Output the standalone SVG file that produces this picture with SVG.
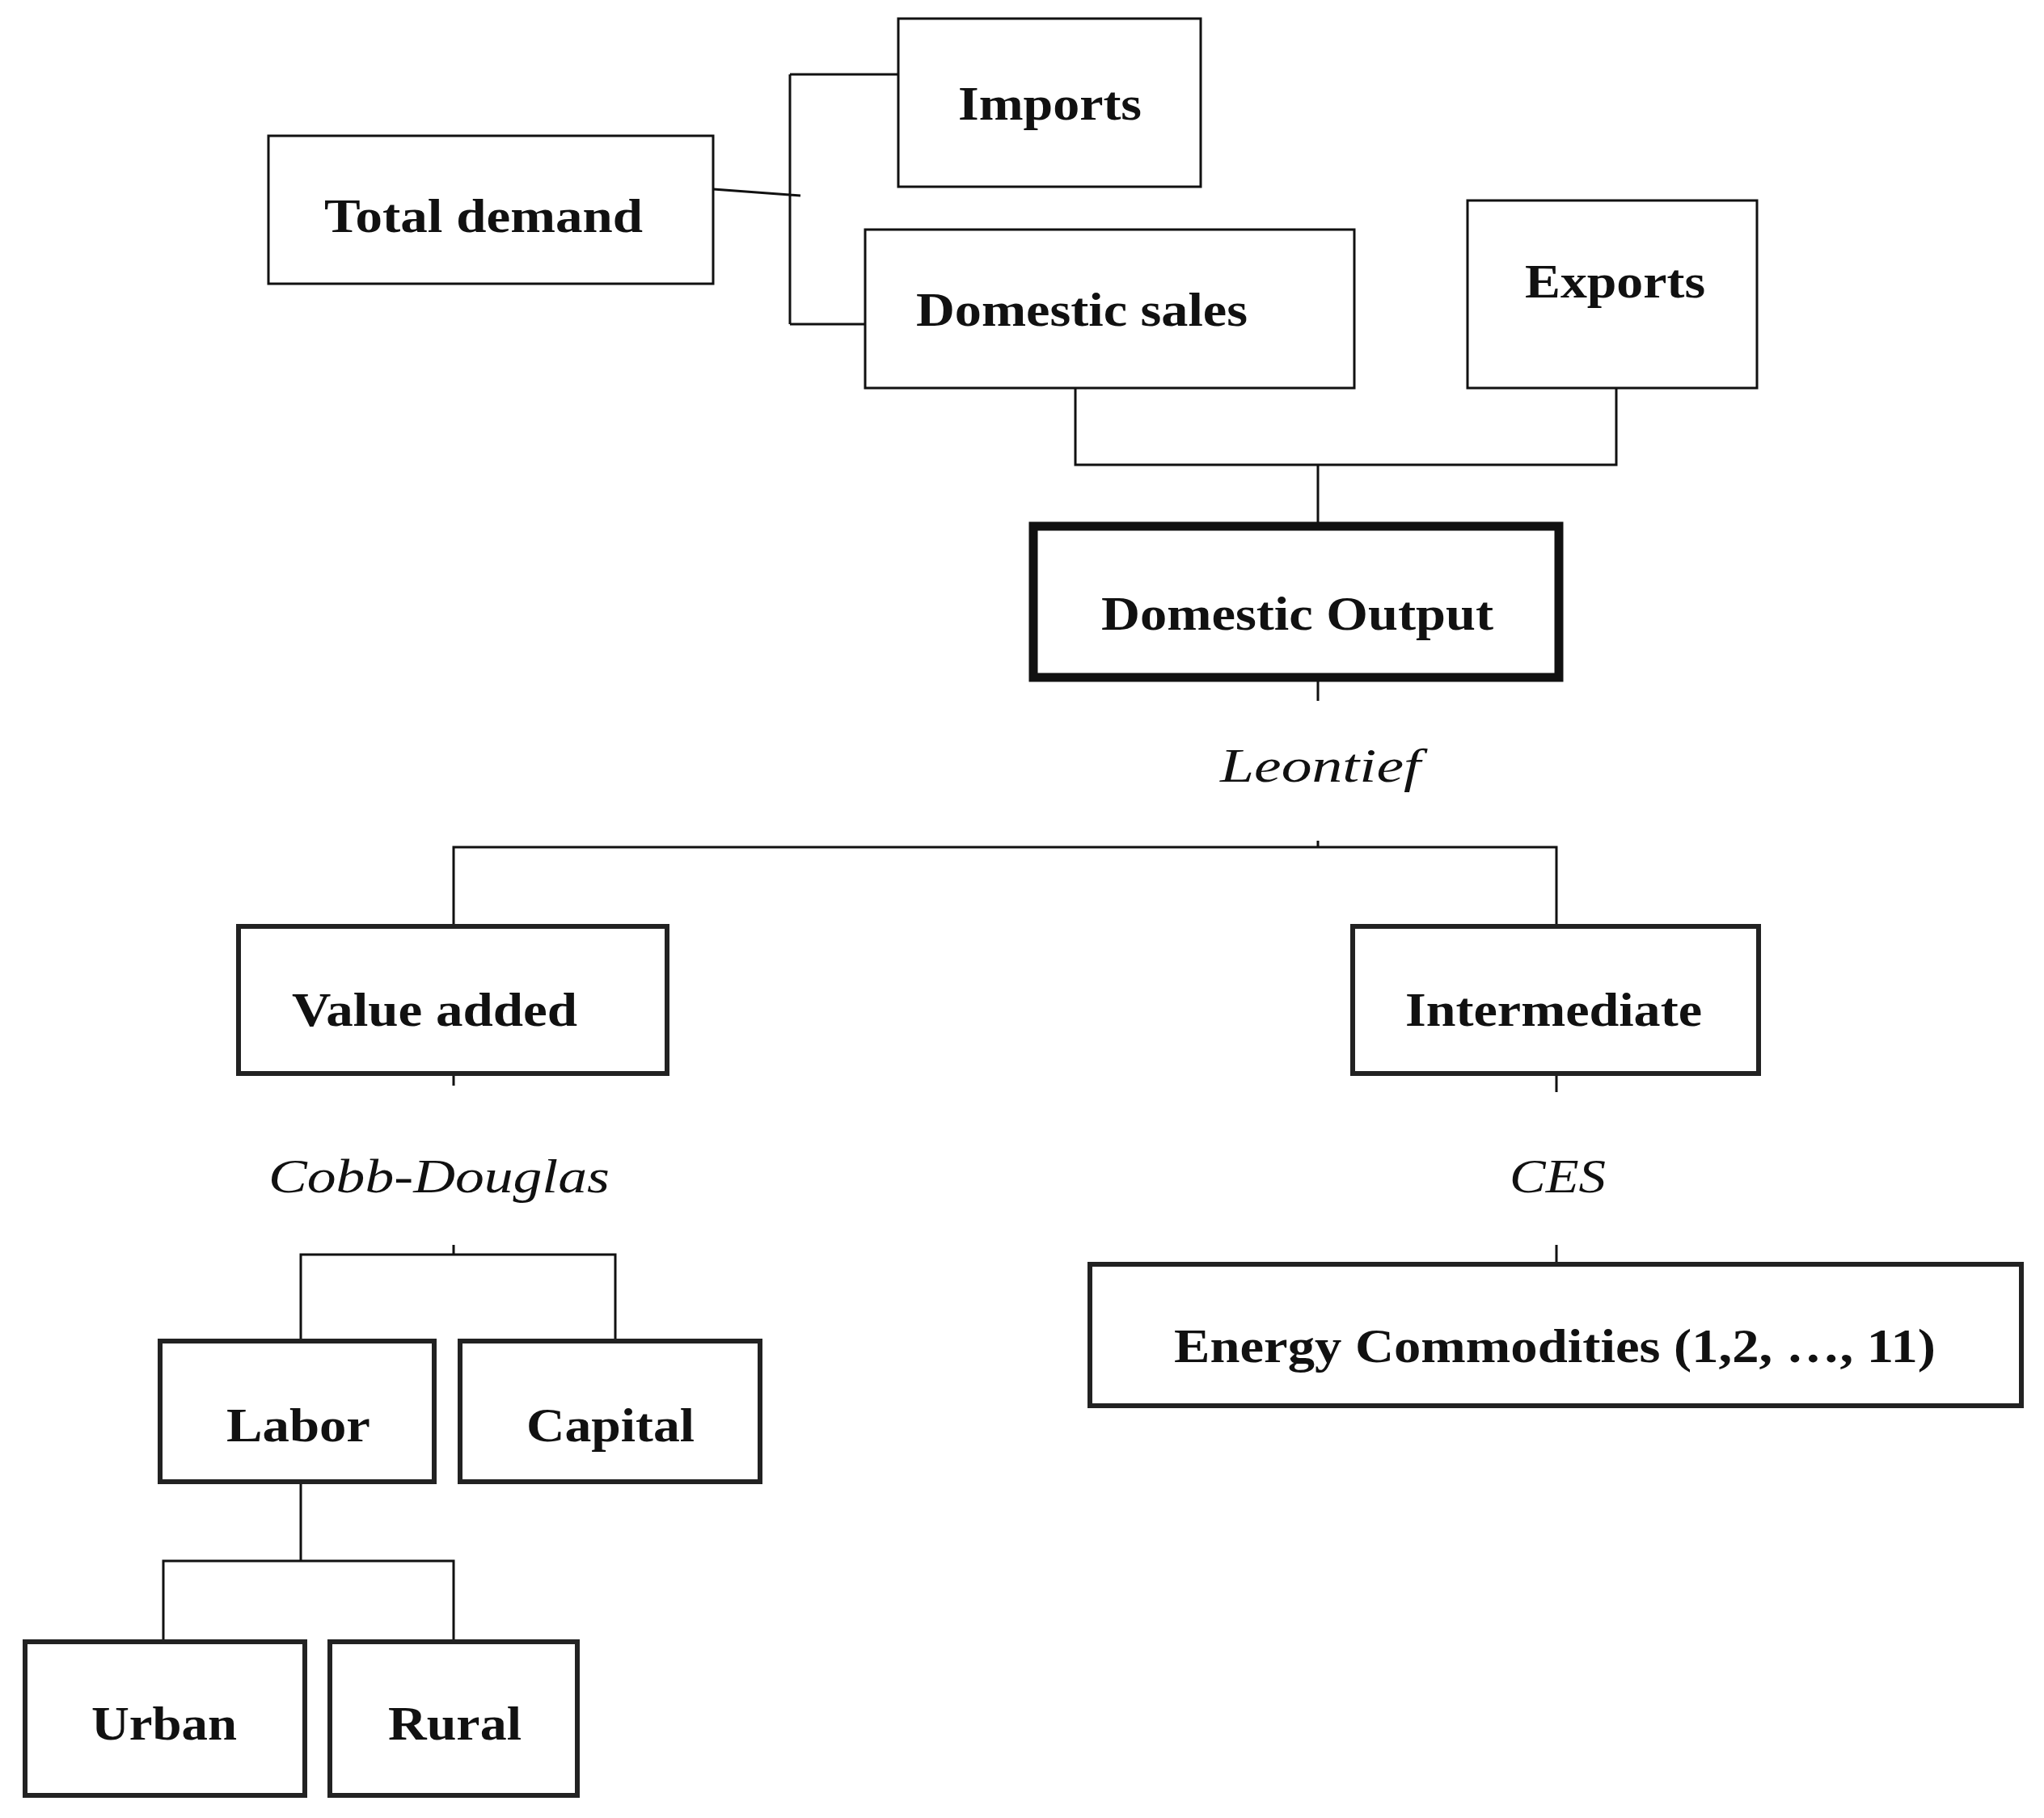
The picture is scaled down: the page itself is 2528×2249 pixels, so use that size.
<svg xmlns="http://www.w3.org/2000/svg" width="2528" height="2249" viewBox="0 0 2528 2249">
<style>
.b{fill:#fff;stroke:#111;stroke-width:3}
.m{fill:#fff;stroke:#222;stroke-width:6}
.k{fill:#fff;stroke:#111;stroke-width:11}
.t{font-family:"Liberation Serif",serif;font-weight:bold;font-size:60px;fill:#111}
.i{font-family:"Liberation Serif",serif;font-style:italic;font-size:60px;fill:#111}
.c{fill:none;stroke:#111;stroke-width:3}
</style>
<rect width="2528" height="2249" fill="#fff"/>
<g id="connectors" class="c">
<path d="M882 234L990 242M977 92V401M977 92H1111M977 401H1070"/>
<path d="M1330 480V575H1999V471M1630 575V651"/>
<path d="M1630 838V867M1630 1040V1048M561 1146V1048H1925V1146"/>
<path d="M561 1328V1343M561 1540V1552M372 1659V1552H761V1659"/>
<path d="M1925 1328V1351M1925 1540V1564"/>
<path d="M372 1833V1931M202 2080V1931H561V2080"/>
</g>
<g id="imports"><rect class="b" x="1111" y="23" width="374" height="208"/><text class="t" x="1185" y="148" textLength="227" lengthAdjust="spacingAndGlyphs">Imports</text></g>
<g id="total-demand"><rect class="b" x="332" y="168" width="550" height="183"/><text class="t" x="401" y="287" textLength="394" lengthAdjust="spacingAndGlyphs">Total demand</text></g>
<g id="domestic-sales"><rect class="b" x="1070" y="284" width="605" height="196"/><text class="t" x="1133" y="403" textLength="410" lengthAdjust="spacingAndGlyphs">Domestic sales</text></g>
<g id="exports"><rect class="b" x="1815" y="248" width="358" height="232"/><text class="t" x="1886" y="368" textLength="223" lengthAdjust="spacingAndGlyphs">Exports</text></g>
<g id="domestic-output"><rect class="k" x="1278" y="651" width="650" height="187"/><text class="t" x="1362" y="779" textLength="485" lengthAdjust="spacingAndGlyphs">Domestic Output</text></g>
<g id="leontief"><text class="i" x="1509" y="967" textLength="248" lengthAdjust="spacingAndGlyphs">Leontief</text></g>
<g id="value-added"><rect class="m" x="295" y="1146" width="530" height="182"/><text class="t" x="361" y="1269" textLength="353" lengthAdjust="spacingAndGlyphs">Value added</text></g>
<g id="intermediate"><rect class="m" x="1673" y="1146" width="502" height="182"/><text class="t" x="1738" y="1269" textLength="367" lengthAdjust="spacingAndGlyphs">Intermediate</text></g>
<g id="cobb-douglas"><text class="i" x="332" y="1475" textLength="422" lengthAdjust="spacingAndGlyphs">Cobb-Douglas</text></g>
<g id="ces"><text class="i" x="1867" y="1475" textLength="119" lengthAdjust="spacingAndGlyphs">CES</text></g>
<g id="energy"><rect class="m" x="1348" y="1564" width="1152" height="175"/><text class="t" x="1452" y="1685" textLength="942" lengthAdjust="spacingAndGlyphs">Energy Commodities (1,2, …, 11)</text></g>
<g id="labor"><rect class="m" x="198" y="1659" width="339" height="174"/><text class="t" x="280" y="1783" textLength="178" lengthAdjust="spacingAndGlyphs">Labor</text></g>
<g id="capital"><rect class="m" x="569" y="1659" width="371" height="174"/><text class="t" x="651" y="1783" textLength="208" lengthAdjust="spacingAndGlyphs">Capital</text></g>
<g id="urban"><rect class="m" x="31" y="2031" width="346" height="190"/><text class="t" x="113" y="2152" textLength="180" lengthAdjust="spacingAndGlyphs">Urban</text></g>
<g id="rural"><rect class="m" x="408" y="2031" width="306" height="190"/><text class="t" x="480" y="2152" textLength="165" lengthAdjust="spacingAndGlyphs">Rural</text></g>
</svg>
